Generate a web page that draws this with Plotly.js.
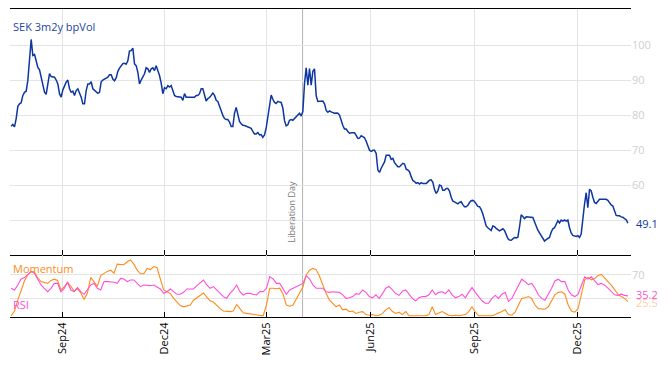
<!DOCTYPE html>
<html>
<head>
<meta charset="utf-8">
<script src="https://cdn.plot.ly/plotly-3.0.1.min.js"></script>
<style>html,body{margin:0;padding:0;background:#fff;}#chart{width:668px;height:366px;}</style>
</head>
<body>
<div id="chart"></div>
<script>
// ---- data ----
const seriesName = 'SEK 3m2y bpVol';
const firstDate = '2024-07-18';
const lastDate = '2026-01-15';
const eventDate = '2025-04-02';
const eventLabel = 'Liberation Day';
const tickLabelsY = ['', '60', '70', '80', '90', '100'];
const tickValsY = [50, 60, 70, 80, 90, 100];
const tickValsInd = [30, 70];
const tickLabelsInd = ['', '70'];

const bpVol = [
76.8,77.3,76.6,79,82.5,83.2,83.5,85.6,86.5,86.8,
89.9,96.5,101.6,97,97.3,95.5,93.6,92.9,90.8,88.9,
86.5,85.9,88.9,91.8,91,91,90.8,90,88.9,86.1,
85.1,87.2,88.4,89.4,90,87.5,86.5,86.8,85.6,87,
87.5,86.5,85.1,83.2,83.2,87,88.9,88.9,89.5,87.5,
87,86.7,86.2,86.5,89.5,90,90.3,90.7,90.8,91.5,
91.5,90.3,89.8,90.6,92.5,93.4,94.2,94.7,94.8,94.5,
95.5,98.3,98.4,99.1,94.6,94.1,92.2,88.9,90,90.8,
91.8,93.5,93.2,92.2,93.2,93.5,92.7,94.1,92.9,91.3,
89.1,86.1,87.8,87.5,88.4,88,88.4,87,85.6,85.3,
85.3,85.1,85.1,84.2,86.1,85.1,85.1,85.1,85.1,85.1,
85.1,85.6,85.6,86.1,87.5,87.5,85.6,84,84.7,85,
85.6,86.3,85.6,84.2,
83.9,82.8,81.2,79.9,79,78.7,78.7,78,76.7,76.7,
80.5,82.2,80,78.2,77.5,77.1,77,76.8,76.6,76.5,
76.2,75.3,74.6,74.6,75,74.3,74.4,73.6,74.3,76.3,
79.5,83.5,85.7,84.5,83.6,83.3,83.9,83.7,83.6,82,
78.4,76.9,77.2,78.5,78.7,78.5,79,79.4,80.2,80.5,
79.7,81,89,93.5,88.5,93.3,88.5,92.5,93.2,85.5,
83.9,84,84,84,83.2,81.3,80.8,81.2,80.9,80.7,
80.5,80.6,80.5,80,78.4,77,76,76,75.3,74.8,
74.9,74.8,74.9,74.2,73.3,73.4,74.1,73.8,73.5,72.5,
71,69.9,69.6,69.9,69.9,69,64.3,63.6,64.8,65.7,
66.6,68.5,68.5,68.5,67.3,67.6,66.4,65.7,65.2,65.2,
65.7,66.2,66,64.5,64.3,63.8,62.4,61.3,61,60.5,
60.7,60.3,60.7,60.4,
60.4,60.4,60.9,61.4,61.5,60.8,58.7,57.6,58.3,60,
59.8,58.5,58.5,59,59,58.3,56.5,55.4,55.2,54.8,
54.6,55,55.2,54.4,53.8,53.8,54.2,55,55.5,55.6,
55.3,54.6,53.9,53.8,53,51.7,50,48.3,47.8,47.3,
47,48.3,48.1,47.6,47.1,46.9,47.2,47.5,47,45.6,
44.7,44.3,44.2,44.6,45,44.9,45.1,48,51.5,51,
50.4,50.9,50.8,50.7,50.7,50.7,49.5,48,47.1,46.3,
45.4,44.5,44,44.4,44.8,45,46.5,47.5,47.8,48.6,
49.8,49.2,50,49.7,50,49.7,50,47.8,46.3,45.6,
45.5,45.3,45.5,45,46,51.5,54.5,57.8,53.5,58.8,
58.3,56.5,55,54.7,55.5,55.9,55.9,55.9,55.9,55.9,
55.6,54.9,54.3,54,52.7,51.3,51.2,51.2,50.9,50.8,
50.4,50.1,49.1
];

const momentum = [
2,10,28,45,60,70,76,75,65,59,
57,56,61,63,61,45,50,58,51,43,
47,40,29,40,66,59,51,69,73,76,
78,73,88,88,87,92,95,88,78,72,
72,81,79,84,82,63,45,42,39,31,
24,19,17,18,20,28,32,37,40,33,
27,25,19,14,10,9,9,10,21,14,
7,6,5,4,3,3,2,20,48,48,
47,48,38,20,18,20,30,42,50,70,
78,81,79,
68,53,39,28,23,17,20,12,13,9,
10,6,8,9,4,3,4,2,3,6,
12,15.6,9,6,8,4,9,2,2,2,
2,3,2,4,17,4,6,9,6,3,
2,3,2,3,4,9,17,8,2,2,
2,2,2,4,6,9,12,4,3,8,
20,31,32,34,31,20,14,14,13,17,
26,37,41,42,38,20,10,8,14,37,
62,66,62,64,69,71,64,59,53,45,
38,34,31,25.5
];

const rsi = [
47.8,45,53.3,63.3,65.6,71,75.6,72.8,61.7,53.3,
47.8,42.2,47.8,56,56,42.2,47.8,57.8,45,42.2,
48.9,42.2,37.8,45,53.3,56,47.8,45,58.9,58.9,
58.9,57.8,56,64.4,63.3,58.9,61.7,61.7,56,50.6,
53.3,52.2,52.2,53.3,50.6,46.7,39.4,42.2,46.7,42.2,
37.8,37.8,41.1,46.7,46.7,46.7,52.2,57.8,61.7,53.3,
47.8,50.6,45,39.4,33.9,31.1,39.4,45,53.3,42.2,
36.7,39.4,39.4,37.8,36.7,42.2,42.2,47.8,67.2,63.3,
56,56,47.8,37.8,45,47.8,50.6,53.3,56,68.9,
63.3,53.3,47.8,
48,48,42,41,42,41,41,37,31,32,
34,39,38,45,41,34,32,37,31,39,
48,51,45,39,36,43,45,37,31,27,
32,34,34,37,45,37,41,42,39,45,
37,32,34,38,32,41,49,41,34,27,
23,23,31,36,31,38,41,26,31,42,
51,63,59,54,56,48,37,31,28,37,
48,60,63,59,59,45,37,34,38,53,
67,63,67,60,54,56,53,48,42,37,
36,38,36,35.2
];

// evenly spaced observation dates between the first and last date
function dateGrid(n) {
  const t0 = Date.parse(firstDate + 'T00:00:00Z');
  const t1 = Date.parse(lastDate + 'T00:00:00Z');
  const out = [];
  for (let i = 0; i < n; i++) {
    const d = new Date(t0 + i * (t1 - t0) / (n - 1));
    out.push(d.toISOString().slice(0, 19).replace('T', ' '));
  }
  return out;
}
const datesMain = dateGrid(bpVol.length);
const datesInd = dateGrid(momentum.length);

const BLUE = '#0d36a1';
const ORANGE = '#ff8c1a';
const PINK = '#ff4fd6';
const GRID = '#e4e4e4';
const FONT = 'Open Sans, Noto Sans, sans-serif';

const traces = [
  {x: datesMain, y: bpVol, type: 'scatter', mode: 'lines', xaxis: 'x', yaxis: 'y',
   line: {color: BLUE, width: 1.5}, hoverinfo: 'skip'},
  {x: datesInd, y: momentum, type: 'scatter', mode: 'lines', xaxis: 'x2', yaxis: 'y2',
   line: {color: ORANGE, width: 1.1}, hoverinfo: 'skip'},
  {x: datesInd, y: rsi, type: 'scatter', mode: 'lines', xaxis: 'x2', yaxis: 'y2',
   line: {color: PINK, width: 1.1}, hoverinfo: 'skip'}
];

const xRange = ['2024-07-16 23:00', '2026-01-17 19:00'];
const split = 62 / 308;

const commonX = {
  type: 'date', range: xRange, dtick: 'M3', tick0: '2024-09-01',
  ticks: 'inside', ticklen: 5, tickcolor: '#000', tickwidth: 1,
  showgrid: true, gridcolor: GRID, gridwidth: 1,
  showline: true, linecolor: '#000', linewidth: 1,
  zeroline: false, fixedrange: true
};

const layout = {
  width: 668, height: 366,
  margin: {l: 10, r: 37, t: 9, b: 49, pad: 0},
  paper_bgcolor: '#fff', plot_bgcolor: '#fff',
  showlegend: false,
  font: {family: FONT, size: 11, color: '#000'},
  xaxis: Object.assign({}, commonX, {anchor: 'y', mirror: true, showticklabels: false, domain: [0, 1]}),
  xaxis2: Object.assign({}, commonX, {anchor: 'y2', mirror: false, showticklabels: true, domain: [0, 1],
    tickangle: -90, tickformat: '%b%y', tickfont: {family: FONT, size: 11, color: '#000'}}),
  yaxis: {domain: [split, 1], anchor: 'x', side: 'right', range: [40, 110.3],
    tickvals: tickValsY, ticktext: tickLabelsY, showgrid: true, gridcolor: GRID,
    zeroline: false, showline: false, ticks: '',
    tickfont: {family: FONT, size: 11, color: '#cfcfcf'}},
  yaxis2: {domain: [0, split], anchor: 'x2', side: 'right', range: [0, 103.3],
    tickvals: tickValsInd, ticktext: tickLabelsInd, showgrid: true, gridcolor: GRID,
    zeroline: false, showline: false, ticks: '',
    tickfont: {family: FONT, size: 11, color: '#cfcfcf'}},
  shapes: [
    {type: 'line', xref: 'x', yref: 'paper', x0: eventDate, x1: eventDate, y0: 0, y1: 1,
     line: {color: '#b4b4b4', width: 1}, layer: 'below'}
  ],
  annotations: [
    {text: seriesName, xref: 'paper', yref: 'paper', x: 0, y: 1, xanchor: 'left', yanchor: 'top',
     xshift: 1, yshift: -8, showarrow: false, font: {family: FONT, size: 11, color: '#2446a6'}},
    {text: 'Momentum', xref: 'paper', yref: 'paper', x: 0, y: split, xanchor: 'left', yanchor: 'top',
     xshift: 1, yshift: -4, showarrow: false, font: {family: FONT, size: 11, color: ORANGE}},
    {text: 'RSI', xref: 'paper', yref: 'paper', x: 0, y: 0, xanchor: 'left', yanchor: 'bottom',
     xshift: 1, yshift: 3, showarrow: false, font: {family: FONT, size: 11, color: PINK}},
    {text: eventLabel, xref: 'x', yref: 'y', x: eventDate, y: 40, xanchor: 'right', yanchor: 'bottom',
     xshift: -3, yshift: 10, textangle: -90, showarrow: false,
     font: {family: FONT, size: 9, color: '#777'}},
    {text: bpVol[bpVol.length - 1].toFixed(1), xref: 'paper', yref: 'y', x: 1, y: bpVol[bpVol.length - 1],
     xanchor: 'left', xshift: 3, showarrow: false, font: {family: FONT, size: 11, color: BLUE}},
    {text: momentum[momentum.length - 1].toFixed(1), xref: 'paper', yref: 'y2', x: 1, y: momentum[momentum.length - 1],
     xanchor: 'left', xshift: 3, yshift: -1, showarrow: false, font: {family: FONT, size: 11, color: 'rgba(255,140,26,0.45)'}},
    {text: rsi[rsi.length - 1].toFixed(1), xref: 'paper', yref: 'y2', x: 1, y: rsi[rsi.length - 1],
     xanchor: 'left', xshift: 3, yshift: 1, showarrow: false, font: {family: FONT, size: 11, color: PINK}}
  ]
};

Plotly.newPlot('chart', traces, layout, {displayModeBar: false, staticPlot: true});
</script>
</body>
</html>
